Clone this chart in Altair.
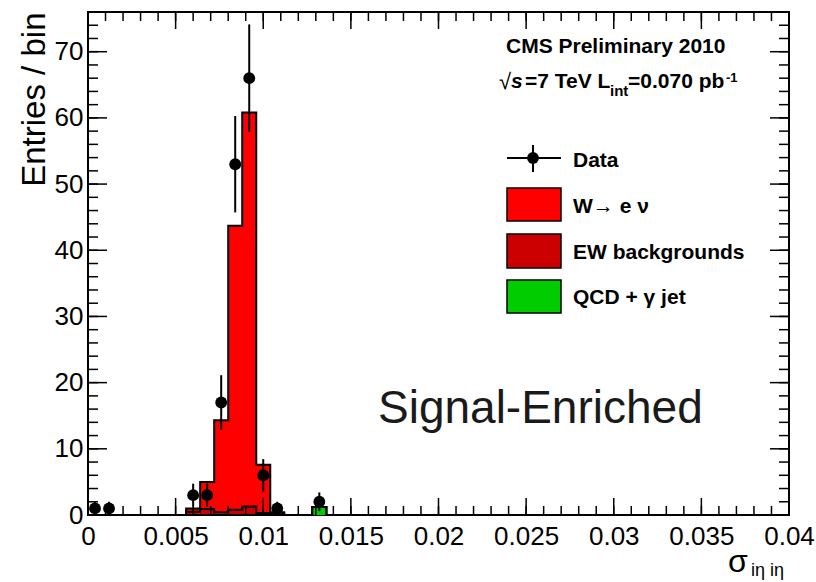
import altair as alt
import pandas as pd
import numpy as np

# ---------------- data ----------------
BIN_WIDTH = 0.0008  # 50 bins between 0 and 0.04

w_enu = [0, 0, 0, 0, 0, 0, 0, 0.5, 4.1, 13.9,
         42.9, 59.5, 7.3, 0.3, 0, 0, 0, 0, 0, 0,
         0, 0, 0, 0, 0, 0, 0, 0, 0, 0,
         0, 0, 0, 0, 0, 0, 0, 0, 0, 0,
         0, 0, 0, 0, 0, 0, 0, 0, 0, 0]
ew_bkg = [0, 0, 0, 0, 0, 0, 0, 0.5, 0.9, 0.4,
          0.8, 1.3, 0.3, 0.1, 0, 0, 0, 0, 0, 0,
          0, 0, 0, 0, 0, 0, 0, 0, 0, 0,
          0, 0, 0, 0, 0, 0, 0, 0, 0, 0,
          0, 0, 0, 0, 0, 0, 0, 0, 0, 0]
qcd_gjet = [0, 0, 0, 0, 0, 0, 0, 0, 0, 0,
            0, 0, 0, 0, 0, 0, 1.2, 0, 0, 0,
            0, 0, 0, 0, 0, 0, 0, 0, 0, 0,
            0, 0, 0, 0, 0, 0, 0, 0, 0, 0,
            0, 0, 0, 0, 0, 0, 0, 0, 0, 0]
data_counts = [1, 1, 0, 0, 0, 0, 0, 3, 3, 17,
               53, 66, 6, 1, 0, 0, 2, 0, 0, 0,
               0, 0, 0, 0, 0, 0, 0, 0, 0, 0,
               0, 0, 0, 0, 0, 0, 0, 0, 0, 0,
               0, 0, 0, 0, 0, 0, 0, 0, 0, 0]

x_tick_values = [0, 0.005, 0.01, 0.015, 0.02, 0.025, 0.03, 0.035, 0.04]
y_tick_values = [0, 10, 20, 30, 40, 50, 60, 70]

legend_labels = ["Data", "W\u2192 e \u03bd", "EW backgrounds", "QCD + \u03b3 jet"]
legend_colors = ["#ff0000", "#cc0000", "#00cc00"]

# ---------------- layout constants ----------------
W, H = 701, 503
FONT = "Liberation Sans"
n_bins = len(w_enu)
edges = [i * BIN_WIDTH for i in range(n_bins + 1)]
centers = [(edges[i] + edges[i + 1]) / 2 for i in range(n_bins)]

xs = alt.Scale(domain=[0, 0.04], nice=False, zero=False)
ys = alt.Scale(domain=[0, 76], nice=False, zero=False)

qcd_c = np.array(qcd_gjet)
ew_c = qcd_c + np.array(ew_bkg)
tot_c = ew_c + np.array(w_enu)


def step_df(vals):
    vals = list(vals)
    return pd.DataFrame({"edge": edges, "value": vals + [vals[-1]]})


x_axis = alt.Axis(values=x_tick_values, format="~g", ticks=False, domain=False, grid=False,
                  labelFont=FONT, labelFontSize=26, labelColor="black", labelPadding=8,
                  labelFlush=False, labelOverlap=False, title=None)
y_axis = alt.Axis(values=y_tick_values, ticks=False, domain=False, grid=False,
                  labelFont=FONT, labelFontSize=26, labelColor="black", labelPadding=5,
                  labelOverlap=False, labelFlush=False,
                  title="Entries / bin", titleFont=FONT, titleFontSize=33,
                  titleFontWeight="normal", titleColor="black",
                  titleX=-54, titleY=0, titleAngle=270, titleAlign="right",
                  titleBaseline="middle")


def X(field):
    return alt.X(field, scale=xs, axis=x_axis)


def Y(field):
    return alt.Y(field, scale=ys, axis=y_axis)


layers = []
for vals, col in [(tot_c, legend_colors[0]), (ew_c, legend_colors[1]), (qcd_c, legend_colors[2])]:
    layers.append(
        alt.Chart(step_df(vals)).mark_area(
            interpolate="step-after", color=col, opacity=1,
            line={"color": "black", "strokeWidth": 2}
        ).encode(x=X("edge:Q"), y=Y("value:Q"))
    )

# data points with Poisson error bars
pts = pd.DataFrame({"center": centers, "count": data_counts})
pts = pts[pts["count"] > 0].copy()
pts["lo"] = pts["count"] - np.sqrt(pts["count"])
pts["hi"] = pts["count"] + np.sqrt(pts["count"])
layers.append(alt.Chart(pts).mark_rule(color="black", strokeWidth=2).encode(
    x=X("center:Q"), y=Y("lo:Q"), y2="hi:Q"))
layers.append(alt.Chart(pts).mark_circle(color="black", opacity=1, size=140).encode(
    x=X("center:Q"), y=Y("count:Q")))

# inward ticks on all four sides
x_major = pd.DataFrame({"v": x_tick_values})
x_minor = pd.DataFrame({"v": [round(i * 0.001, 4) for i in range(41)]})
y_major = pd.DataFrame({"v": y_tick_values})
y_minor = pd.DataFrame({"v": list(range(0, 76, 2))})
for df, ln in [(x_major, 17), (x_minor, 9)]:
    layers.append(alt.Chart(df).mark_rule(color="black", strokeWidth=1.5).encode(
        x=X("v:Q"), y=alt.value(H), y2=alt.value(H - ln)))
    layers.append(alt.Chart(df).mark_rule(color="black", strokeWidth=1.5).encode(
        x=X("v:Q"), y=alt.value(0), y2=alt.value(ln)))
for df, ln in [(y_major, 19), (y_minor, 10)]:
    layers.append(alt.Chart(df).mark_rule(color="black", strokeWidth=1.5).encode(
        y=Y("v:Q"), x=alt.value(0), x2=alt.value(ln)))
    layers.append(alt.Chart(df).mark_rule(color="black", strokeWidth=1.5).encode(
        y=Y("v:Q"), x=alt.value(W), x2=alt.value(W - ln)))

one = pd.DataFrame({"d": [0]})


def label(text, x, y, size, weight="normal", style="normal", color="black", align="left"):
    return alt.Chart(one).mark_text(
        text=text, font=FONT, fontSize=size, fontWeight=weight, fontStyle=style,
        color=color, align=align, baseline="alphabetic"
    ).encode(x=alt.value(x), y=alt.value(y))


# CMS header
layers += [
    label("CMS Preliminary 2010", 418, 41, 21, "bold"),
    label("\u221a", 411, 77, 22),
    label("s", 423, 76, 21, "bold", "italic"),
    label("=7 TeV L", 437, 76, 21, "bold"),
    label("int", 522, 84, 15, "bold"),
    label("=0.070 pb", 540, 76, 21, "bold"),
    label("-1", 638, 70, 13, "bold"),
]

# legend
layers.append(alt.Chart(one).mark_rule(color="black", strokeWidth=2).encode(
    x=alt.value(419), x2=alt.value(473), y=alt.value(146)))
layers.append(alt.Chart(one).mark_rule(color="black", strokeWidth=2).encode(
    x=alt.value(445), y=alt.value(133), y2=alt.value(160)))
layers.append(alt.Chart(one).mark_circle(color="black", opacity=1, size=140).encode(
    x=alt.value(445), y=alt.value(146)))
box_y = [(176, 209), (222, 256), (268, 301)]
for (y0, y1), col in zip(box_y, legend_colors):
    layers.append(alt.Chart(one).mark_rect(fill=col, stroke="black", strokeWidth=1.5).encode(
        x=alt.value(419), x2=alt.value(473), y=alt.value(y0), y2=alt.value(y1)))
for txt, yb in zip(legend_labels, [155, 201, 247, 292]):
    layers.append(label(txt, 485, yb, 21, "bold"))

# big annotation
layers.append(label("Signal-Enriched", 290, 411, 46, color="#1a1a1a"))

# x-axis title sigma_{i eta i eta}
layers.append(label("\u03c3", 640, 560, 32))
layers.append(label("i\u03b7 i\u03b7", 663, 564, 18))

chart = alt.layer(*layers).properties(
    width=W, height=H,
    padding={"left": 88, "top": 12, "right": 27, "bottom": 67},
    autosize=alt.AutoSizeParams(type="none"),
    background="white",
).configure_view(stroke="black", strokeWidth=2)

chart.save("out.html", embed_options={"renderer": "svg", "actions": False})
